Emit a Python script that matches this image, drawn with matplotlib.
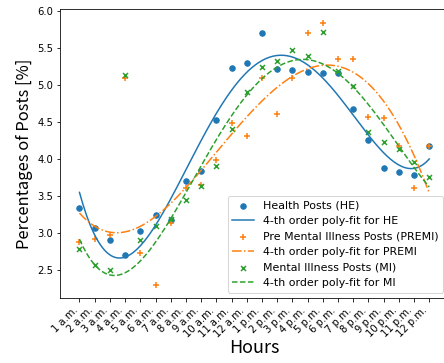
import numpy as np
import matplotlib
matplotlib.use("Agg")
import matplotlib.pyplot as plt

hour_labels = ["1 a.m.", "2 a.m.", "3 a.m.", "4 a.m.", "5 a.m.", "6 a.m.",
               "7 a.m.", "8 a.m.", "9 a.m.", "10 a.m.", "11 a.m.", "12 a.m.",
               "1 p.m.", "2 p.m.", "3 p.m.", "4 p.m.", "5 p.m.", "6 p.m.",
               "7 p.m.", "8 p.m.", "9 p.m.", "10 p.m.", "11 p.m.", "12 p.m."]
hours = np.arange(1, 25)

# percentages of posts per hour
he = [3.33, 3.06, 2.90, 2.70, 3.03, 3.24, 3.17, 3.70, 3.84, 4.52, 5.23, 5.29,
      5.70, 5.21, 5.20, 5.17, 5.16, 5.16, 4.67, 4.26, 3.88, 3.82, 3.78, 4.18]
premi = [2.88, 2.92, 2.97, 5.09, 2.73, 2.30, 3.13, 3.60, 3.65, 3.98, 4.48, 4.31,
         5.10, 4.61, 5.10, 5.70, 5.84, 5.35, 5.35, 4.56, 4.55, 4.17, 3.60, 4.17]
mi = [2.78, 2.56, 2.50, 5.13, 2.90, 3.09, 3.18, 3.44, 3.63, 3.91, 4.40, 4.91,
      5.24, 5.32, 5.47, 5.39, 5.71, 5.19, 4.98, 4.36, 4.23, 4.13, 3.96, 3.75]
# the MI fit in the chart leaves out the 4 a.m. point
mi_fit_hours = [h for h in hours if h != 4]

dpi = 72
fig = plt.figure(figsize=(444 / dpi, 363 / dpi), dpi=dpi)
ax = fig.add_axes([60 / 444, 65 / 363, 388.7 / 444, 288.7 / 363])

xs = np.linspace(1, 24, 200)


def poly_line(x, y):
    coef = np.polyfit(x, y, 4)
    return np.polyval(coef, xs)


mi_fit_vals = [mi[h - 1] for h in mi_fit_hours]

ax.scatter(hours, he, color="#1f77b4", marker="o", s=30, label="Health Posts (HE)")
ax.plot(xs, poly_line(hours, he), color="#1f77b4", lw=1.5, label="4-th order poly-fit for HE")
ax.scatter(hours, premi, color="#ff7f0e", marker="+", s=30, label="Pre Mental Illness Posts (PREMI)")
ax.plot(xs, poly_line(hours, premi), color="#ff7f0e", lw=1.5, ls="-.", label="4-th order poly-fit for PREMI")
ax.scatter(hours, mi, color="#2ca02c", marker="x", s=25, label="Mental Illness Posts (MI)")
ax.plot(xs, poly_line(mi_fit_hours, mi_fit_vals), color="#2ca02c", lw=1.5, ls="--", label="4-th order poly-fit for MI")

ax.set_xlim(1 - 1.28, 24 + 1.28)
ax.set_ylim(2.118, 6.023)
ax.set_xticks(hours)
ax.set_xticklabels(hour_labels, rotation=45, ha="right", fontsize=10)
ax.tick_params(axis="y", labelsize=10)
ax.set_yticks([2.5, 3.0, 3.5, 4.0, 4.5, 5.0, 5.5, 6.0])

ax.set_xlabel("Hours", fontsize=18, family=["Noto Sans CJK SC", "DejaVu Sans"], labelpad=0)
ax.set_ylabel("Percentages of Posts [%]", fontsize=16.5, family=["Noto Sans CJK SC", "DejaVu Sans"])

ax.legend(loc="lower right", fontsize=11)

fig.savefig("out.png", dpi=dpi)
